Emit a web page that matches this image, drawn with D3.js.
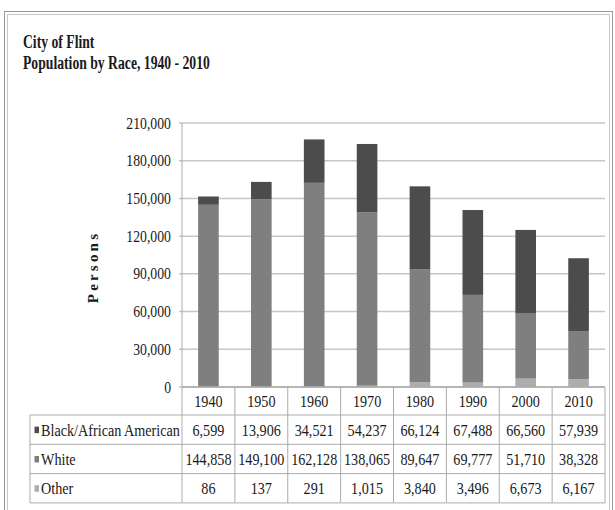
<!DOCTYPE html>
<html>
<head>
<meta charset="utf-8">
<script src="https://cdn.jsdelivr.net/npm/d3@7"></script>
<style>
  body { margin: 0; background: #fff; }
  svg text { font-family: "Liberation Serif", "Times New Roman", serif; fill: #1a1a1a; }
</style>
</head>
<body>
<div id="chart"></div>
<script>
// data
const years = ["1940", "1950", "1960", "1970", "1980", "1990", "2000", "2010"];
const black = [6599, 13906, 34521, 54237, 66124, 67488, 66560, 57939];
const white = [144858, 149100, 162128, 138065, 89647, 69777, 51710, 38328];
const other = [86, 137, 291, 1015, 3840, 3496, 6673, 6167];
const seriesNames = ["Black/African American", "White", "Other"];
const yTicks = [0, 30000, 60000, 90000, 120000, 150000, 180000, 210000];

const W = 615, H = 510;
const plot = { left: 182, right: 605, top: 123, bottom: 387 };
const tableLeft = 30;
const headerH = 28, rowH = 29.3;
const squeeze = 0.86;

const colors = {
    "Black/African American": "#4c4c4c",
    "White": "#7f7f7f",
    "Other": "#adadad"
};

const rows = years.map((y, i) => ({
    year: y,
    "Black/African American": black[i],
    "White": white[i],
    "Other": other[i]
}));

const svg = d3.select("#chart").append("svg")
    .attr("width", W)
    .attr("height", H);

// outer frame (double line)
svg.append("rect")
    .attr("x", 4.5).attr("y", 11.5)
    .attr("width", 608).attr("height", 520)
    .attr("fill", "none").attr("stroke", "#9a9a9a");
svg.append("rect")
    .attr("x", 7.5).attr("y", 14.5)
    .attr("width", 602).attr("height", 520)
    .attr("fill", "none").attr("stroke", "#c8c8c8");

// titles
const titles = ["City of Flint", "Population by Race, 1940 - 2010"];
svg.selectAll(".title")
    .data(titles)
    .join("text")
        .attr("class", "title")
        .attr("transform", (d, i) => "translate(23," + (48 + i * 21) + ") scale(0.72,1)")
        .style("font-size", "19px")
        .style("font-weight", "bold")
        .text(d => d);

const x = d3.scaleBand()
    .domain(years)
    .range([plot.left, plot.right]);

const y = d3.scaleLinear()
    .domain([0, 210000])
    .range([plot.bottom, plot.top]);

// gridlines
svg.append("g")
    .selectAll("line")
    .data(yTicks)
    .join("line")
        .attr("x1", plot.left - 3)
        .attr("x2", plot.right)
        .attr("y1", d => y(d))
        .attr("y2", d => y(d))
        .attr("stroke", "#c6c6c6")
        .attr("stroke-width", 1.5);

// y axis labels
const yAxis = svg.append("g")
    .attr("transform", "translate(" + plot.left + ",0)")
    .call(d3.axisLeft(y).tickValues(yTicks).tickFormat(d3.format(",")).tickSize(0));
yAxis.select(".domain").remove();
yAxis.selectAll("text")
    .attr("x", 0)
    .attr("transform", "translate(-11,0) scale(" + squeeze + ",1)")
    .style("font-size", "16px")
    .attr("fill", "#1a1a1a");

svg.append("text")
    .attr("transform", "translate(98," + ((plot.top + plot.bottom) / 2 + 12) + ") rotate(-90)")
    .attr("text-anchor", "middle")
    .style("font-size", "15px")
    .style("font-weight", "bold")
    .style("letter-spacing", "3.2px")
    .text("Persons");

// stacked bars, Other at the bottom
const stack = d3.stack().keys(["Other", "White", "Black/African American"]);
const barW = x.bandwidth() * 0.39;

svg.append("g")
    .selectAll("g")
    .data(stack(rows))
    .join("g")
        .attr("fill", d => colors[d.key])
    .selectAll("rect")
    .data(d => d)
    .join("rect")
        .attr("x", d => x(d.data.year) + (x.bandwidth() - barW) / 2)
        .attr("width", barW)
        .attr("y", d => y(d[1]))
        .attr("height", d => y(d[0]) - y(d[1]));

// data table
const table = svg.append("g");
const lineColor = "#ababab";
const tableBottom = plot.bottom + headerH + rowH * seriesNames.length;

// vertical column lines
table.selectAll(".vline")
    .data(years.concat(["end"]))
    .join("line")
        .attr("x1", (d, i) => plot.left + i * x.bandwidth())
        .attr("x2", (d, i) => plot.left + i * x.bandwidth())
        .attr("y1", (d, i) => i === 0 ? plot.top : plot.bottom)
        .attr("y2", tableBottom)
        .attr("stroke", lineColor);

// left border of the label column
table.append("line")
    .attr("x1", tableLeft).attr("x2", tableLeft)
    .attr("y1", plot.bottom + headerH).attr("y2", tableBottom)
    .attr("stroke", lineColor);

// horizontal lines
table.append("line")
    .attr("x1", plot.left).attr("x2", plot.right)
    .attr("y1", plot.bottom).attr("y2", plot.bottom)
    .attr("stroke", lineColor).attr("stroke-width", 1.5);
table.selectAll(".hline")
    .data(d3.range(seriesNames.length + 1))
    .join("line")
        .attr("x1", tableLeft)
        .attr("x2", plot.right)
        .attr("y1", i => plot.bottom + headerH + i * rowH)
        .attr("y2", i => plot.bottom + headerH + i * rowH)
        .attr("stroke", lineColor);

// year header
table.selectAll(".year")
    .data(years)
    .join("text")
        .attr("class", "year")
        .attr("transform", d => "translate(" + (x(d) + x.bandwidth() / 2) + "," + (plot.bottom + headerH / 2 + 6) + ") scale(" + squeeze + ",1)")
        .attr("text-anchor", "middle")
        .style("font-size", "16.5px")
        .text(d => d);

const fmt = d3.format(",");
const rowG = table.selectAll(".row")
    .data(seriesNames)
    .join("g")
        .attr("class", "row")
        .attr("transform", (d, i) => "translate(0," + (plot.bottom + headerH + i * rowH + rowH / 2) + ")");

rowG.append("rect")
    .attr("x", 34.5)
    .attr("y", -3)
    .attr("width", 4.5)
    .attr("height", 6.5)
    .attr("fill", d => colors[d]);

rowG.append("text")
    .attr("transform", "translate(41,6) scale(" + squeeze + ",1)")
    .style("font-size", "16.5px")
    .text(d => d);

rowG.selectAll(".val")
    .data(name => rows.map(r => ({ year: r.year, v: r[name] })))
    .join("text")
        .attr("class", "val")
        .attr("transform", d => "translate(" + (x(d.year) + x.bandwidth() / 2) + ",6) scale(" + squeeze + ",1)")
        .attr("text-anchor", "middle")
        .style("font-size", "16.5px")
        .text(d => fmt(d.v));
</script>
</body>
</html>
